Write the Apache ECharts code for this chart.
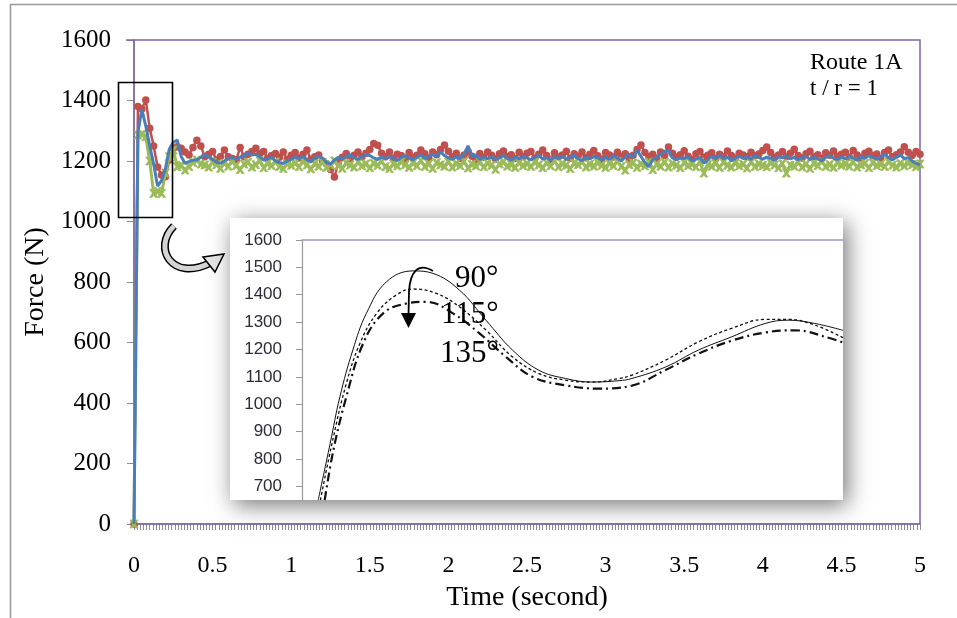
<!DOCTYPE html>
<html>
<head>
<meta charset="utf-8">
<script src="https://cdn.jsdelivr.net/npm/echarts@6/dist/echarts.min.js"></script>
<style>
html,body{margin:0;padding:0;background:#fff;}
#chart{width:957px;height:618px;}
</style>
</head>
<body>
<div id="chart"></div>
<script>
// ---- Main chart data (sampling step) ----
const T_STEP = 0.025; // seconds between samples
const xTickLabels = [0, 0.5, 1, 1.5, 2, 2.5, 3, 3.5, 4, 4.5, 5];
const yTickLabels = [0, 200, 400, 600, 800, 1000, 1200, 1400, 1600];

const force90 = [ // red, circle markers
0,1380,1372,1402,1308,1250,1180,1154,1148,1203,1242,1247,1242,1230,1220,1245,1269,1250,1214,1222,1231,
1203,1215,1236,1214,1208,1203,1245,1214,1222,1231,1242,1226,1231,1209,1218,1225,1212,1230,1205,1219,
1228,1210,1222,1236,1205,1214,1220,1200,1190,1172,1147,1195,1212,1225,1208,1219,1230,1214,1226,1238,
1258,1252,1226,1214,1230,1209,1222,1218,1205,1228,1212,1219,1236,1224,1210,1230,1221,1238,1253,1232,
1214,1226,1209,1220,1231,1216,1204,1225,1212,1230,1219,1207,1224,1233,1215,1221,1208,1229,1214,1226,
1231,1210,1222,1236,1218,1205,1227,1214,1220,1232,1209,1224,1216,1230,1211,1222,1235,1217,1206,1228,
1220,1213,1229,1215,1224,1207,1219,1238,1253,1228,1214,1222,1209,1230,1218,1246,1226,1212,1221,1234,
1216,1205,1224,1231,1212,1219,1227,1208,1222,1214,1233,1218,1209,1226,1220,1214,1229,1217,1223,1235,
1246,1228,1212,1220,1231,1215,1226,1239,1218,1210,1224,1232,1214,1221,1208,1227,1219,1233,1216,1222,
1229,1213,1235,1220,1210,1226,1232,1217,1223,1209,1228,1236,1214,1221,1230,1247,1229,1218,1231,1222
];
const force135 = [ // green, star markers
0,1286,1288,1280,1200,1093,1100,1093,1160,1214,1236,1181,1185,1170,1182,1195,1203,1190,1187,1180,1195,
1188,1176,1192,1183,1198,1185,1172,1190,1196,1180,1188,1201,1178,1192,1185,1197,1182,1175,1190,1186,
1193,1181,1198,1187,1174,1191,1183,1195,1179,1188,1200,1185,1176,1193,1187,1180,1196,1184,1190,1178,
1192,1186,1199,1181,1175,1190,1184,1197,1188,1179,1193,1185,1201,1182,1190,1176,1194,1187,1183,1196,
1180,1191,1185,1198,1177,1189,1184,1195,1181,1192,1186,1173,1190,1197,1183,1188,1179,1194,1185,1191,
1182,1196,1187,1178,1193,1184,1199,1181,1190,1186,1175,1192,1188,1197,1180,1189,1183,1194,1186,1179,
1191,1185,1198,1182,1170,1188,1193,1179,1190,1184,1196,1172,1189,1183,1195,1180,1191,1186,1178,1194,
1185,1190,1181,1197,1160,1188,1183,1192,1179,1195,1186,1180,1193,1184,1189,1177,1196,1182,1190,1185,
1181,1194,1187,1178,1191,1160,1186,1183,1195,1180,1189,1176,1192,1185,1198,1182,1188,1179,1193,1186,
1190,1183,1196,1180,1187,1192,1178,1194,1185,1189,1182,1197,1186,1180,1191,1184,1193,1188,1181,1190,1186
];
const force115 = [ // blue line
0,1295,1371,1315,1250,1190,1117,1135,1175,1240,1262,1269,1215,
1192,1198,1203,1203,1212,1220,1214,1205,1196,1192,1200,1209,1211,1206,1213,1218,1225,1220,1222,1214,1203,1208,1212,1200,1195,1192,1201,
1205,1212,1208,1215,1203,1198,1210,1216,1209,1195,1190,1203,1212,1207,1215,1220,1212,1205,1214,1222,
1218,1210,1205,1213,1207,1215,1209,1201,1212,1218,1210,1204,1213,1220,1208,1215,1222,1214,1230,1218,
1210,1206,1214,1208,1222,1250,1215,1220,1205,1212,1208,1215,1204,1211,1218,1209,1202,1213,1207,1215,
1210,1204,1213,1219,1206,1211,1203,1214,1209,1216,1205,1212,1220,1208,1201,1213,1207,1215,1210,1204,
1212,1205,1218,1209,1200,1214,1222,1212,1236,1215,1195,1181,1205,1212,1222,1232,1234,1210,1205,1210,
1208,1214,1200,1206,1212,1193,1204,1215,1209,1218,1207,1213,1201,1210,1216,1208,1214,1205,1219,1211,
1206,1213,1209,1202,1215,1210,1218,1207,1212,1204,1211,1216,1205,1213,1208,1200,1212,1218,1209,1205,
1213,1207,1215,1210,1203,1214,1209,1218,1212,1206,1215,1222,1210,1204,1213,1220,1208,1211,1200,1192,1187
];

// ---- Inset data (zoomed peak, x in relative units 0..100, no labels) ----
const inset90X  = [3.0,5.2,7.0,9.4,11.9,15.6,20.5,24.2,29.1,34.0,38.9,43.8,48.7,53.6,58.6,61,67.2,73.3,79.4,85.6,89.9,94.8,100];
const inset90Y  = [650,856,1027,1198,1332,1447,1487,1478,1417,1307,1198,1124,1094,1081,1086,1094,1136,1198,1246,1295,1307,1295,1270];
const inset115X = [3.4,5.8,8.2,10.7,13.8,17.4,20.5,24.8,29.1,34.0,38.9,43.8,48.7,53.6,58.6,61,67.2,73.3,79.4,85.6,89.9,94.8,100];
const inset115Y = [650,880,1076,1222,1332,1399,1421,1405,1356,1271,1173,1112,1088,1081,1094,1106,1161,1228,1277,1310,1310,1289,1243];
const inset135X = [4.2,5.8,8.2,11.3,15.0,19.3,23.0,27.9,32.8,37.7,42.6,48.7,54.9,61,67.2,73.3,79.4,85.6,91.1,97.8,100];
const inset135Y = [650,832,1027,1222,1332,1368,1374,1332,1259,1173,1100,1069,1057,1068,1125,1185,1232,1262,1270,1240,1225];
const insetYTicks = [700,800,900,1000,1100,1200,1300,1400,1500,1600];

const angleLabels = ['90°', '115°', '135°'];

// ---- build ----
function pairs(vals){ return vals.map((v,i)=>[+(i*T_STEP).toFixed(3), v]); }
function zip(xs, ys){ return xs.map((x,i)=>[x, ys[i]]); }

const SERIF = '"Liberation Serif", "Times New Roman", serif';
const SANS = '"Liberation Sans", Arial, sans-serif';
const starPath = 'path://M0,0 L3,0 L5,3 L7,0 L10,0 L6.5,5 L10,10 L7,10 L5,7 L3,10 L0,10 L3.5,5 Z';
const plain = v => String(v);

const chart = echarts.init(document.getElementById('chart'), null, {renderer:'canvas'});
const option = {
  animation: false,
  backgroundColor: '#fff',
  grid: [
    {left:134, top:40, width:786, height:484, show:true, borderColor:'#7F64A8', borderWidth:1.5, backgroundColor:'transparent', z:1},
    {left:302, top:240, width:541, height:260, z:60}
  ],
  xAxis: [
    {type:'value', gridIndex:0, min:0, max:5, interval:0.5,
     axisLine:{show:true, lineStyle:{color:'#8c8c8c', width:1.5}},
     axisTick:{show:true, length:6, lineStyle:{color:'#8c8c8c', width:1}},
     minorTick:{show:true, splitNumber:25, length:6, lineStyle:{color:'#8c8c8c', width:1}},
     splitLine:{show:false},
     axisLabel:{color:'#000', fontFamily:SERIF, fontSize:24, margin:30,
       customValues: xTickLabels, formatter: plain},
     name:'Time (second)', nameLocation:'middle', nameGap:60,
     nameTextStyle:{color:'#000', fontFamily:SERIF, fontSize:28}},
    {type:'value', gridIndex:1, min:0, max:100, position:'top', z:60,
     axisLine:{show:true, onZero:false, lineStyle:{color:'#A894C8', width:1.5}},
     axisTick:{show:false}, axisLabel:{show:false}, splitLine:{show:false}}
  ],
  yAxis: [
    {type:'value', gridIndex:0, min:0, max:1600, interval:200,
     axisLine:{show:true, lineStyle:{color:'#8c8c8c', width:1.5}},
     axisTick:{show:true, length:7, lineStyle:{color:'#8c8c8c', width:1}},
     splitLine:{show:false},
     axisLabel:{color:'#000', fontFamily:SERIF, fontSize:25, margin:23,
       customValues: yTickLabels, formatter: plain},
     name:'Force (N)', nameLocation:'middle', nameGap:82,
     nameTextStyle:{color:'#000', fontFamily:SERIF, fontSize:28}},
    {type:'value', gridIndex:1, min:650, max:1600, z:60,
     axisLine:{show:true, lineStyle:{color:'#999', width:1.2}},
     axisTick:{show:true, length:6, customValues: insetYTicks, lineStyle:{color:'#999'}},
     splitLine:{show:false},
     axisLabel:{color:'#2b2b3a', fontFamily:SANS, fontSize:17, margin:20,
       customValues: insetYTicks, formatter: plain}}
  ],
  series: [
    {name:'90°', type:'line', xAxisIndex:0, yAxisIndex:0, data:pairs(force90), z:3,
     symbol:'circle', symbolSize:7.5, showAllSymbol:true,
     lineStyle:{color:'#C0504D', width:2.5}, itemStyle:{color:'#C0504D'}},
    {name:'135°', type:'line', xAxisIndex:0, yAxisIndex:0, data:pairs(force135), z:4,
     symbol:starPath, symbolSize:8, showAllSymbol:true,
     lineStyle:{color:'#9BBB59', width:3}, itemStyle:{color:'#9BBB59', borderColor:'#9BBB59', borderWidth:0.8}},
    {name:'115°', type:'line', xAxisIndex:0, yAxisIndex:0, data:pairs(force115), z:5,
     symbol:'none', lineStyle:{color:'#4A7EBB', width:3}},
    {name:'in90', type:'line', xAxisIndex:1, yAxisIndex:1, data:zip(inset90X, inset90Y), z:65,
     symbol:'none', smooth:0.4, clip:true, lineStyle:{color:'#111', width:1}},
    {name:'in115', type:'line', xAxisIndex:1, yAxisIndex:1, data:zip(inset115X, inset115Y), z:65,
     symbol:'none', smooth:0.4, clip:true, lineStyle:{color:'#111', width:1.3, type:[3,2.5]}},
    {name:'in135', type:'line', xAxisIndex:1, yAxisIndex:1, data:zip(inset135X, inset135Y), z:65,
     symbol:'none', smooth:0.4, clip:true, lineStyle:{color:'#111', width:2.2, type:[9,4,2,4]}}
  ],
  graphic: [
    {type:'polyline', z:1, shape:{points:[[10.5,618],[10.5,4.5],[957,4.5]]}, style:{stroke:'#999', lineWidth:1.5, fill:null}},
    {type:'line', z:1, shape:{x1:126, y1:40, x2:134, y2:40}, style:{stroke:'#7F64A8', lineWidth:1.5}},
    {type:'rect', z:20, shape:{x:118.5, y:82.5, width:54, height:135}, style:{fill:null, stroke:'#000', lineWidth:1.6}},
    {type:'bezierCurve', z:20, shape:{x1:174, y1:226, cpx1:152, cpy1:248, cpx2:172, cpy2:282, x2:210, y2:263}, style:{stroke:'#000', lineWidth:8, fill:null}},
    {type:'bezierCurve', z:21, shape:{x1:174, y1:226, cpx1:152, cpy1:248, cpx2:172, cpy2:282, x2:210, y2:263}, style:{stroke:'#d4d4d4', lineWidth:5, fill:null}},
    {type:'polygon', z:22, shape:{points:[[203,257],[224,254],[215,272]]}, style:{fill:'#e6e6e6', stroke:'#000', lineWidth:1.5}},
    {type:'rect', z:50, shape:{x:230, y:218, width:613, height:282}, style:{fill:'#fff', shadowBlur:22, shadowColor:'rgba(0,0,0,0.55)', shadowOffsetX:4, shadowOffsetY:5}},
    {type:'text', z:30, x:810, y:63, style:{text:'Route 1A', fill:'#000', font:'24px '+SERIF, verticalAlign:'middle'}},
    {type:'text', z:30, x:810, y:89, style:{text:'t / r = 1', fill:'#000', font:'23px '+SERIF, verticalAlign:'middle'}},
    {type:'bezierCurve', z:80, shape:{x1:433, y1:271, cpx1:418, cpy1:262, cpx2:410, cpy2:272, x2:409, y2:292}, style:{stroke:'#000', lineWidth:1.8, fill:null}},
    {type:'line', z:80, shape:{x1:409, y1:292, x2:408.5, y2:315}, style:{stroke:'#000', lineWidth:1.8}},
    {type:'polygon', z:80, shape:{points:[[401,313],[416,313],[408.5,328]]}, style:{fill:'#000'}},
    {type:'text', z:80, x:455, y:279, style:{text:angleLabels[0], fill:'#000', font:'31px '+SERIF, verticalAlign:'middle'}},
    {type:'text', z:80, x:441, y:315, style:{text:angleLabels[1], fill:'#000', font:'31px '+SERIF, verticalAlign:'middle'}},
    {type:'text', z:80, x:440, y:354, style:{text:angleLabels[2], fill:'#000', font:'31px '+SERIF, verticalAlign:'middle'}}
  ]
};
chart.setOption(option);
</script>
</body>
</html>
